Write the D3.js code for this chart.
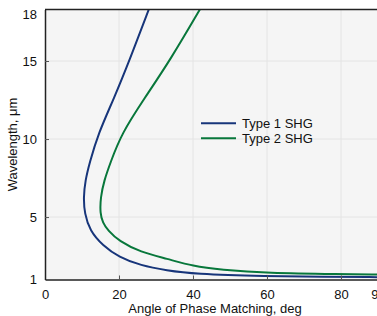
<!DOCTYPE html>
<html>
<head>
<meta charset="utf-8">
<script src="https://cdn.jsdelivr.net/npm/d3@7"></script>
<style>
  body { margin: 0; background: #fff; }
  svg { display: block; font-family: "Liberation Sans", Arial, sans-serif; }
</style>
</head>
<body>
<div id="chart"></div>
<script>
// angle of phase matching (deg) vs wavelength (um)
var type1Wavelength = [18.4, 15.08, 12.58, 10.36, 8.44, 7.35, 6.26, 5.23, 4.14, 3.18, 2.43, 1.9, 1.58, 1.36, 1.21, 1.17, 1.15];
var type1Angle      = [28.2, 22.9, 18.6, 14.4, 12.0, 10.9, 10.4, 10.7, 12.1, 15.6, 20.0, 25.8, 33.0, 40, 60, 75, 90];

var type2Wavelength = [18.4, 15.08, 12.58, 10.36, 8.44, 7.35, 6.26, 5.23, 4.65, 4.14, 3.46, 2.75, 2.33, 1.85, 1.62, 1.40, 1.34, 1.32];
var type2Angle      = [42.1, 33.9, 26.8, 20.7, 17.6, 16.0, 15.0, 14.9, 15.6, 17.0, 20.0, 25.8, 33.0, 40, 47.5, 60, 80, 90];

var seriesNames = ['Type 1 SHG', 'Type 2 SHG'];
var seriesColors = ['#17357a', '#08773b'];

var xTicks = [0, 20, 40, 60, 80, 90];
var yTicks = [1, 5, 10, 15, 18];

var width = 377, height = 316
  , margin = { left: 45, top: 9.5 }
  , plotW = 333, plotH = 270
;

var svg = d3.select('#chart').append('svg')
    .attr('width', width)
    .attr('height', height);

var x = d3.scaleLinear().domain([0, 90]).range([margin.left, margin.left + plotW]);
var y = d3.scaleLinear().domain([1, 18.3]).range([margin.top + plotH, margin.top]);

// plot background
svg.append('rect')
    .attr('x', margin.left)
    .attr('y', margin.top)
    .attr('width', plotW)
    .attr('height', plotH)
    .attr('fill', '#f5f5f5');

svg.append('clipPath').attr('id', 'plotclip')
  .append('rect')
    .attr('x', margin.left)
    .attr('y', margin.top)
    .attr('width', plotW)
    .attr('height', plotH);

// grid
svg.append('g').selectAll('line.vgrid')
    .data([20, 40, 60, 80])
    .enter().append('line')
    .attr('x1', function (d) { return x(d); })
    .attr('x2', function (d) { return x(d); })
    .attr('y1', margin.top)
    .attr('y2', margin.top + plotH)
    .attr('stroke', '#e4e4e4')
    .attr('stroke-width', 1);

svg.append('g').selectAll('line.hgrid')
    .data([5, 10, 15])
    .enter().append('line')
    .attr('x1', margin.left)
    .attr('x2', margin.left + plotW)
    .attr('y1', function (d) { return y(d); })
    .attr('y2', function (d) { return y(d); })
    .attr('stroke', '#e4e4e4')
    .attr('stroke-width', 1);

// curves
var line = d3.line()
    .x(function (d) { return x(d[1]); })
    .y(function (d) { return y(d[0]); })
    .curve(d3.curveBasis);

var series = [
  d3.zip(type1Wavelength, type1Angle),
  d3.zip(type2Wavelength, type2Angle)
];

svg.append('g').attr('clip-path', 'url(#plotclip)')
  .selectAll('path')
    .data(series)
    .enter().append('path')
    .attr('d', line)
    .attr('fill', 'none')
    .attr('stroke', function (d, i) { return seriesColors[i]; })
    .attr('stroke-width', 2);

// axes (ticks point inward)
var xAxis = svg.append('g')
    .attr('transform', 'translate(0,' + (margin.top + plotH) + ')')
    .call(d3.axisBottom(x).tickValues(xTicks).tickSize(-4).tickPadding(10).tickSizeOuter(0));

var yAxis = svg.append('g')
    .attr('transform', 'translate(' + margin.left + ',0)')
    .call(d3.axisLeft(y).tickValues(yTicks).tickSize(-4).tickPadding(8).tickSizeOuter(0));

[xAxis, yAxis].forEach(function (a) {
  a.select('.domain').attr('stroke', '#222').attr('stroke-width', 1.5);
  a.selectAll('.tick line').attr('stroke', '#555');
  a.selectAll('.tick text')
    .attr('fill', '#111')
    .style('font-size', '13px')
    .style('font-family', '"Liberation Sans", Arial, sans-serif');
});
yAxis.selectAll('.tick').filter(function (d) { return d === 1 || d === 18; }).select('line').remove();
xAxis.selectAll('.tick').filter(function (d) { return d === 0; }).select('line').remove();

// top border
svg.append('line')
    .attr('x1', margin.left)
    .attr('x2', margin.left + plotW)
    .attr('y1', margin.top)
    .attr('y2', margin.top)
    .attr('stroke', '#222')
    .attr('stroke-width', 1.5);

// axis titles
svg.append('text')
    .attr('x', 215)
    .attr('y', 313)
    .attr('text-anchor', 'middle')
    .attr('fill', '#111')
    .style('font-size', '13px')
    .text('Angle of Phase Matching, deg');

svg.append('text')
    .attr('transform', 'translate(17,' + (margin.top + plotH / 2) + ') rotate(-90)')
    .attr('text-anchor', 'middle')
    .attr('fill', '#111')
    .style('font-size', '13px')
    .text('Wavelength, \u03bcm');

// legend
var legend = svg.append('g').selectAll('g')
    .data(seriesNames)
    .enter().append('g')
    .attr('transform', function (d, i) { return 'translate(201,' + (123.3 + i * 15) + ')'; });

legend.append('line')
    .attr('x1', 0).attr('x2', 35)
    .attr('stroke', function (d, i) { return seriesColors[i]; })
    .attr('stroke-width', 2);

legend.append('text')
    .attr('x', 41)
    .attr('y', 4.5)
    .attr('fill', '#111')
    .style('font-size', '13px')
    .text(function (d) { return d; });
</script>
</body>
</html>
